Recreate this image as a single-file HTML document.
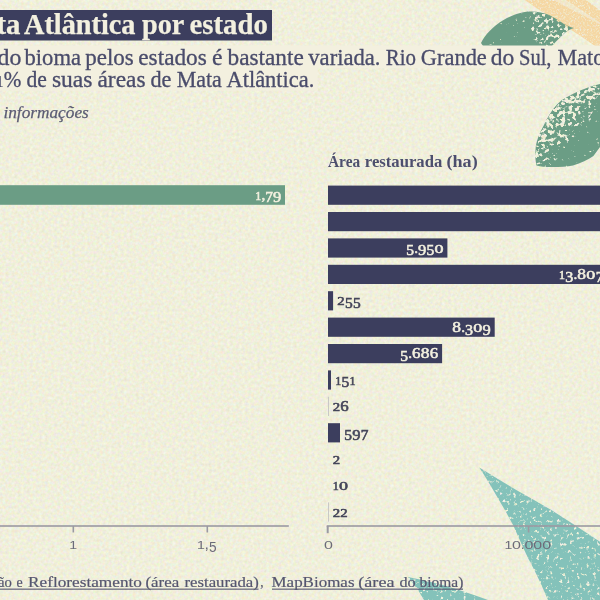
<!DOCTYPE html>
<html><head><meta charset="utf-8">
<style>
html,body{margin:0;padding:0;}
body{width:600px;height:600px;overflow:hidden;background:#efeee0;position:relative;font-family:"Liberation Serif",serif;}
svg{position:absolute;left:-10px;top:-10px;will-change:transform;filter:blur(0.45px);}
text{font-family:"Liberation Serif",serif;}
.d text{font-weight:normal;font-size:15.6px;}
.sans text{font-family:"Liberation Sans",sans-serif;}
</style></head><body>
<svg width="620" height="620" viewBox="-10 -10 620 620">
<defs>
<filter id="paper" x="0" y="0" width="100%" height="100%" color-interpolation-filters="sRGB">
  <feTurbulence type="fractalNoise" baseFrequency="0.33" numOctaves="2" seed="7"/>
  <feColorMatrix type="matrix" values="0.12 0 0 0 0.881  0 0.12 0 0 0.878  0 0 0.2 0 0.76  0 0 0 0 1"/>
</filter>
<linearGradient id="gA" gradientUnits="userSpaceOnUse" x1="500" y1="40" x2="560" y2="20"><stop offset="0" stop-color="#000"/><stop offset="0.45" stop-color="#000"/><stop offset="0.6" stop-color="#c00000"/><stop offset="1" stop-color="#c00000"/></linearGradient>
<linearGradient id="gB" gradientUnits="userSpaceOnUse" x1="600" y1="150" x2="545" y2="100"><stop offset="0" stop-color="#000"/><stop offset="0.25" stop-color="#000"/><stop offset="0.45" stop-color="#a00000"/><stop offset="0.7" stop-color="#f00"/><stop offset="1" stop-color="#f00"/></linearGradient>
<filter id="fgreen" x="-5%" y="-5%" width="110%" height="110%" color-interpolation-filters="sRGB">
  <feTurbulence type="fractalNoise" baseFrequency="0.26" numOctaves="2" seed="11" result="n0"/>
  <feColorMatrix in="n0" type="matrix" values="1 0 0 0 0  0 1 0 0 0  0 0 1 0 0  0 0 0 0 1" result="n"/>
  <feComposite in="n" in2="SourceGraphic" operator="arithmetic" k1="0" k2="1" k3="0.28" k4="0" result="m"/>
  <feColorMatrix in="m" type="matrix" values="0 0 0 0 1  0 0 0 0 1  0 0 0 0 1  9 0 0 0 -6.65" result="h0"/>
  <feGaussianBlur in="h0" stdDeviation="0.45" result="holes"/>
  <feFlood flood-color="#6b9d85" result="c"/>
  <feComposite in="c" in2="SourceAlpha" operator="in" result="leaf"/>
  <feComposite in="leaf" in2="holes" operator="out"/>
</filter>
<filter id="fteal" x="-5%" y="-5%" width="110%" height="110%" color-interpolation-filters="sRGB">
  <feTurbulence type="fractalNoise" baseFrequency="0.3" numOctaves="3" seed="4" result="n0"/>
  <feColorMatrix in="n0" type="matrix" values="0 0 0 0 1  0 0 0 0 1  0 0 0 0 1  6 0 0 0 -3.55" result="h0"/>
  <feGaussianBlur in="h0" stdDeviation="0.55" result="holes"/>
  <feComposite in="SourceGraphic" in2="holes" operator="out"/>
</filter>
<filter id="forange" x="-5%" y="-5%" width="110%" height="110%" color-interpolation-filters="sRGB">
  <feTurbulence type="fractalNoise" baseFrequency="0.55" numOctaves="2" seed="9" result="n0"/>
  <feColorMatrix in="n0" type="matrix" values="0 0 0 0 1  0 0 0 0 1  0 0 0 0 1  3 0 0 0 -1.45" result="h0"/>
  <feGaussianBlur in="h0" stdDeviation="0.4" result="holes"/>
  <feComposite in="SourceGraphic" in2="holes" operator="out"/>
</filter>
</defs>
<rect x="-10" y="-10" width="620" height="620" fill="#efeee0" filter="url(#paper)"/>
<!-- orange sprigs -->
<g id="orange" fill="#f5d7a3" filter="url(#forange)">
<path d="M522 -2 L540 10.5 L559.5 22.5 L580.5 36 L595 46 L612 46 L612 31 L600 24.5 L594 21 L580.5 14 L570 8.8 L550 -2 Z"/>
<path opacity="0.35" d="M548 -2 L566 -2 L612 31 L612 34 Z"/>
<path d="M563 -2 L580.5 9.6 L594 18.8 L612 30.5 L612 19 L600 10.5 L583.5 -2 Z"/>
</g>
<!-- green leaves -->
<g id="green">
<path fill="url(#gA)" filter="url(#fgreen)" d="M481 43 C488 28 508 14 527.6 11.6 C536 11 543 12.5 548.6 14.7 C558 19 564 25.5 574 28 C566 30 562 36 555.6 42 L552 46 L483 46 Z"/>
<path fill="url(#gB)" filter="url(#fgreen)" d="M612 82 L600 84 C596 85 592 86 588 87.5 C578 91 570 95 562 100 C554 106 548 116 544 125 C539 134 536 142 535.6 149 C535 156 535.5 161 536.5 165.4 C542 167 548 167.3 553 167 C560 167 567 166.5 573 165.4 C581 163 588 160 593.4 156 L600 147 L612 130 Z"/>
</g>
<!-- teal leaves -->
<g id="teal" fill="#84c2ba" filter="url(#fteal)">
<path d="M479.3 467.5 L498 479 L516.7 490.3 L534 500 L551.7 510.2 L575 525.3 L600 541.7 L612 550 L612 612 L553 612 L548 600 L541 584 L534.2 569.7 L528 558 L522.5 546.3 L513.2 525.3 L505 510.2 L499 500 L493.3 490.3 L486 478 Z"/>
<path d="M408 577 C424 580 440 584 456 589 C462 591 468 593 474 595 L488 600 L510 612 L430 612 L424 600 L418 590 Z"/>
</g>
<!-- text backgrounds -->
<rect x="-10" y="45.5" width="620" height="22.7" fill="#f3f0df"/>
<rect x="-10" y="68" width="327.5" height="22.5" fill="#f3f0df"/>
<!-- title -->
<rect x="-10" y="10" width="282" height="30.5" fill="#3c3e5e"/>
<text x="-3.5" y="33.9" font-size="29.2" fill="#f3f0df" textLength="24.0" lengthAdjust="spacingAndGlyphs" font-weight="bold" stroke="#f3f0df" stroke-width="0.25">ta</text>
<text x="24.0" y="33.9" font-size="29.2" fill="#f3f0df" textLength="111.5" lengthAdjust="spacingAndGlyphs" font-weight="bold" stroke="#f3f0df" stroke-width="0.25">Atlântica</text>
<text x="142.0" y="33.9" font-size="29.2" fill="#f3f0df" textLength="42.3" lengthAdjust="spacingAndGlyphs" font-weight="bold" stroke="#f3f0df" stroke-width="0.25">por</text>
<text x="189.5" y="33.9" font-size="29.2" fill="#f3f0df" textLength="78.3" lengthAdjust="spacingAndGlyphs" font-weight="bold" stroke="#f3f0df" stroke-width="0.25">estado</text>
<text x="-2.5" y="64.8" font-size="22.2" fill="#4a4c6b" textLength="23.8" lengthAdjust="spacingAndGlyphs" stroke="#4a4c6b" stroke-width="0.3">do</text>
<text x="24.5" y="64.8" font-size="22.2" fill="#4a4c6b" textLength="56.5" lengthAdjust="spacingAndGlyphs" stroke="#4a4c6b" stroke-width="0.3">bioma</text>
<text x="85.3" y="64.8" font-size="22.2" fill="#4a4c6b" textLength="48.5" lengthAdjust="spacingAndGlyphs" stroke="#4a4c6b" stroke-width="0.3">pelos</text>
<text x="138.3" y="64.8" font-size="22.2" fill="#4a4c6b" textLength="68.5" lengthAdjust="spacingAndGlyphs" stroke="#4a4c6b" stroke-width="0.3">estados</text>
<text x="212.0" y="64.8" font-size="22.2" fill="#4a4c6b" textLength="10.5" lengthAdjust="spacingAndGlyphs" stroke="#4a4c6b" stroke-width="0.3">é</text>
<text x="227.5" y="64.8" font-size="22.2" fill="#4a4c6b" textLength="76.3" lengthAdjust="spacingAndGlyphs" stroke="#4a4c6b" stroke-width="0.3">bastante</text>
<text x="308.3" y="64.8" font-size="22.2" fill="#4a4c6b" textLength="72.2" lengthAdjust="spacingAndGlyphs" stroke="#4a4c6b" stroke-width="0.3">variada.</text>
<text x="385.8" y="64.8" font-size="22.2" fill="#4a4c6b" textLength="30.2" lengthAdjust="spacingAndGlyphs" stroke="#4a4c6b" stroke-width="0.3">Rio</text>
<text x="420.8" y="64.8" font-size="22.2" fill="#4a4c6b" textLength="66.0" lengthAdjust="spacingAndGlyphs" stroke="#4a4c6b" stroke-width="0.3">Grande</text>
<text x="490.8" y="64.8" font-size="22.2" fill="#4a4c6b" textLength="23.5" lengthAdjust="spacingAndGlyphs" stroke="#4a4c6b" stroke-width="0.3">do</text>
<text x="519.0" y="64.8" font-size="22.2" fill="#4a4c6b" textLength="32.5" lengthAdjust="spacingAndGlyphs" stroke="#4a4c6b" stroke-width="0.3">Sul,</text>
<text x="557.5" y="64.8" font-size="22.2" fill="#4a4c6b" textLength="46.8" lengthAdjust="spacingAndGlyphs" stroke="#4a4c6b" stroke-width="0.3">Mato</text>
<text x="-4" y="87.3" font-size="22.2" fill="#4a4c6b" transform="translate(-4,87.3) scale(0.7,0.76) translate(4,-87.3)">1</text>
<text x="3.7" y="87.3" font-size="22.2" fill="#4a4c6b" textLength="17.6" lengthAdjust="spacingAndGlyphs" stroke="#4a4c6b" stroke-width="0.3">%</text>
<text x="26.5" y="87.3" font-size="22.2" fill="#4a4c6b" textLength="20.4" lengthAdjust="spacingAndGlyphs" stroke="#4a4c6b" stroke-width="0.3">de</text>
<text x="51.9" y="87.3" font-size="22.2" fill="#4a4c6b" textLength="40.6" lengthAdjust="spacingAndGlyphs" stroke="#4a4c6b" stroke-width="0.3">suas</text>
<text x="97.5" y="87.3" font-size="22.2" fill="#4a4c6b" textLength="48.0" lengthAdjust="spacingAndGlyphs" stroke="#4a4c6b" stroke-width="0.3">áreas</text>
<text x="150.5" y="87.3" font-size="22.2" fill="#4a4c6b" textLength="21.0" lengthAdjust="spacingAndGlyphs" stroke="#4a4c6b" stroke-width="0.3">de</text>
<text x="176.7" y="87.3" font-size="22.2" fill="#4a4c6b" textLength="45.1" lengthAdjust="spacingAndGlyphs" stroke="#4a4c6b" stroke-width="0.3">Mata</text>
<text x="226.5" y="87.3" font-size="22.2" fill="#4a4c6b" textLength="87.8" lengthAdjust="spacingAndGlyphs" stroke="#4a4c6b" stroke-width="0.3">Atlântica.</text>
<text id="info" x="3.4" y="118" font-size="17.3" font-style="italic" fill="#5b5c74" stroke="#5b5c74" stroke-width="0.25" textLength="85.4" lengthAdjust="spacingAndGlyphs">informações</text>
<text x="328.0" y="166.8" font-size="16.8" fill="#4d4f6e" textLength="32.2" lengthAdjust="spacingAndGlyphs" font-weight="bold">Área</text>
<text x="364.8" y="166.8" font-size="16.8" fill="#4d4f6e" textLength="77.5" lengthAdjust="spacingAndGlyphs" font-weight="bold">restaurada</text>
<text x="446.5" y="166.8" font-size="16.8" fill="#4d4f6e" textLength="31.2" lengthAdjust="spacingAndGlyphs" font-weight="bold">(ha)</text>
<!-- left bar -->
<rect x="-10" y="185.2" width="295" height="19.6" fill="#6b9d85"/>
<g class="d"><text transform="translate(255.20,199.60) scale(0.771,0.8)" fill="#f3f0df" stroke="#f3f0df" stroke-width="0.74">1</text><text transform="translate(261.40,199.60) scale(0.974,1.0)" fill="#f3f0df" stroke="#f3f0df" stroke-width="0.59">,</text><text transform="translate(265.20,202.40) scale(0.982,1.0)" fill="#f3f0df" stroke="#f3f0df" stroke-width="0.59">7</text><text transform="translate(273.10,202.40) scale(1.057,1.0)" fill="#f3f0df" stroke="#f3f0df" stroke-width="0.56">9</text></g>
<!-- right bars -->
<rect x="328.0" y="185.6" width="280.8" height="19.2" fill="#3c3e5e"/><rect x="328.0" y="212.0" width="280.8" height="19.2" fill="#3c3e5e"/><rect x="328.0" y="238.4" width="119.4" height="19.2" fill="#3c3e5e"/><rect x="328.0" y="264.8" width="277.0" height="19.2" fill="#3c3e5e"/><rect x="328.0" y="291.2" width="5.1" height="19.2" fill="#3c3e5e"/><rect x="328.0" y="317.6" width="166.7" height="19.2" fill="#3c3e5e"/><rect x="328.0" y="344.0" width="114.1" height="19.2" fill="#3c3e5e"/><rect x="328.0" y="370.4" width="3.0" height="19.2" fill="#3c3e5e"/><rect x="328.0" y="396.8" width="1" height="19.2" fill="#c9c8c6"/><rect x="328.0" y="423.2" width="12.0" height="19.2" fill="#3c3e5e"/><rect x="328.0" y="502.4" width="1" height="19.2" fill="#c9c8c6"/>
<g class="d"><text transform="translate(406.16,255.40) scale(0.995,1.0)" fill="#f3f0df" stroke="#f3f0df" stroke-width="0.58">5</text><text transform="translate(414.16,252.60) scale(0.974,1.0)" fill="#f3f0df" stroke="#f3f0df" stroke-width="0.59">.</text><text transform="translate(417.96,255.40) scale(1.057,1.0)" fill="#f3f0df" stroke="#f3f0df" stroke-width="0.56">9</text><text transform="translate(426.46,255.40) scale(0.995,1.0)" fill="#f3f0df" stroke="#f3f0df" stroke-width="0.58">5</text><text transform="translate(434.46,252.60) scale(1.157,0.8)" fill="#f3f0df" stroke="#f3f0df" stroke-width="0.60">0</text><text transform="translate(559.07,279.00) scale(0.771,0.8)" fill="#f3f0df" stroke="#f3f0df" stroke-width="0.74">1</text><text transform="translate(565.27,281.80) scale(1.032,1.0)" fill="#f3f0df" stroke="#f3f0df" stroke-width="0.57">3</text><text transform="translate(573.57,279.00) scale(0.974,1.0)" fill="#f3f0df" stroke="#f3f0df" stroke-width="0.59">.</text><text transform="translate(577.37,279.00) scale(1.119,1.0)" fill="#f3f0df" stroke="#f3f0df" stroke-width="0.55">8</text><text transform="translate(586.37,279.00) scale(1.157,0.8)" fill="#f3f0df" stroke="#f3f0df" stroke-width="0.60">0</text><text transform="translate(595.67,281.80) scale(0.982,1.0)" fill="#f3f0df" stroke="#f3f0df" stroke-width="0.59">7</text><text transform="translate(337.32,305.40) scale(0.945,0.8)" fill="#45465a" stroke="#45465a" stroke-width="0.71">2</text><text transform="translate(344.92,308.20) scale(0.995,1.0)" fill="#45465a" stroke="#45465a" stroke-width="0.62">5</text><text transform="translate(352.92,308.20) scale(0.995,1.0)" fill="#45465a" stroke="#45465a" stroke-width="0.62">5</text><text transform="translate(452.18,331.80) scale(1.119,1.0)" fill="#f3f0df" stroke="#f3f0df" stroke-width="0.55">8</text><text transform="translate(461.18,331.80) scale(0.974,1.0)" fill="#f3f0df" stroke="#f3f0df" stroke-width="0.59">.</text><text transform="translate(464.98,334.60) scale(1.032,1.0)" fill="#f3f0df" stroke="#f3f0df" stroke-width="0.57">3</text><text transform="translate(473.28,331.80) scale(1.157,0.8)" fill="#f3f0df" stroke="#f3f0df" stroke-width="0.60">0</text><text transform="translate(482.58,334.60) scale(1.057,1.0)" fill="#f3f0df" stroke="#f3f0df" stroke-width="0.56">9</text><text transform="translate(400.26,361.00) scale(0.995,1.0)" fill="#f3f0df" stroke="#f3f0df" stroke-width="0.58">5</text><text transform="translate(408.26,358.20) scale(0.974,1.0)" fill="#f3f0df" stroke="#f3f0df" stroke-width="0.59">.</text><text transform="translate(412.06,358.20) scale(1.082,1.0)" fill="#f3f0df" stroke="#f3f0df" stroke-width="0.56">6</text><text transform="translate(420.76,358.20) scale(1.119,1.0)" fill="#f3f0df" stroke="#f3f0df" stroke-width="0.55">8</text><text transform="translate(429.76,358.20) scale(1.082,1.0)" fill="#f3f0df" stroke="#f3f0df" stroke-width="0.56">6</text><text transform="translate(335.23,384.60) scale(0.771,0.8)" fill="#45465a" stroke="#45465a" stroke-width="0.79">1</text><text transform="translate(341.43,387.40) scale(0.995,1.0)" fill="#45465a" stroke="#45465a" stroke-width="0.62">5</text><text transform="translate(349.43,384.60) scale(0.771,0.8)" fill="#45465a" stroke="#45465a" stroke-width="0.79">1</text><text transform="translate(332.72,411.00) scale(0.945,0.8)" fill="#45465a" stroke="#45465a" stroke-width="0.71">2</text><text transform="translate(340.32,411.00) scale(1.082,1.0)" fill="#45465a" stroke="#45465a" stroke-width="0.60">6</text><text transform="translate(344.18,440.20) scale(0.995,1.0)" fill="#45465a" stroke="#45465a" stroke-width="0.62">5</text><text transform="translate(352.18,440.20) scale(1.057,1.0)" fill="#45465a" stroke="#45465a" stroke-width="0.60">9</text><text transform="translate(360.68,440.20) scale(0.982,1.0)" fill="#45465a" stroke="#45465a" stroke-width="0.63">7</text><text transform="translate(332.70,463.80) scale(0.945,0.8)" fill="#45465a" stroke="#45465a" stroke-width="0.71">2</text><text transform="translate(332.70,490.20) scale(0.771,0.8)" fill="#45465a" stroke="#45465a" stroke-width="0.79">1</text><text transform="translate(338.90,490.20) scale(1.157,0.8)" fill="#45465a" stroke="#45465a" stroke-width="0.64">0</text><text transform="translate(332.70,516.60) scale(0.945,0.8)" fill="#45465a" stroke="#45465a" stroke-width="0.71">2</text><text transform="translate(340.30,516.60) scale(0.945,0.8)" fill="#45465a" stroke="#45465a" stroke-width="0.71">2</text></g>
<!-- axes -->
<g fill="#9b99a2">
<rect x="-10" y="525.2" width="298.8" height="1.6"/>
<rect x="72.5" y="526" width="1.6" height="6.5"/>
<rect x="206.5" y="526" width="1.6" height="6.5"/>
<rect x="326.7" y="525.2" width="284" height="1.6"/>
<rect x="326.7" y="526" width="2" height="7.2"/>
<rect x="527.8" y="526" width="1.6" height="6.5"/>
</g>
<g class="sans" font-size="14.3">
<text transform="translate(69.20,549.40) scale(0.990,0.78)" fill="#6c6b79">1</text>
<text transform="translate(197.00,549.40) scale(0.990,0.78)" fill="#6c6b79">1</text><text transform="translate(204.50,549.40) scale(1.107,1.0)" fill="#6c6b79">,</text><text transform="translate(208.90,552.20) scale(0.956,1.0)" fill="#6c6b79">5</text>
<text transform="translate(324.00,549.40) scale(1.119,0.78)" fill="#6c6b79">0</text>
<text transform="translate(504.60,549.40) scale(0.990,0.78)" fill="#6c6b79">1</text><text transform="translate(512.10,549.40) scale(1.119,0.78)" fill="#6c6b79">0</text><text transform="translate(521.00,549.40) scale(0.855,1.0)" fill="#6c6b79">.</text><text transform="translate(524.40,549.40) scale(1.119,0.78)" fill="#6c6b79">0</text><text transform="translate(533.30,549.40) scale(1.119,0.78)" fill="#6c6b79">0</text><text transform="translate(542.20,549.40) scale(1.119,0.78)" fill="#6c6b79">0</text>
</g>
<text x="-2.0" y="586.6" font-size="15.4" fill="#55566f" textLength="13.9" lengthAdjust="spacingAndGlyphs" stroke="#55566f" stroke-width="0.2">ão</text>
<text x="16.5" y="586.6" font-size="15.4" fill="#55566f" textLength="6.2" lengthAdjust="spacingAndGlyphs" stroke="#55566f" stroke-width="0.2">e</text>
<text x="28.1" y="586.6" font-size="15.4" fill="#55566f" textLength="113.8" lengthAdjust="spacingAndGlyphs" stroke="#55566f" stroke-width="0.2">Reflorestamento</text>
<text x="145.5" y="586.6" font-size="15.4" fill="#55566f" textLength="33.7" lengthAdjust="spacingAndGlyphs" stroke="#55566f" stroke-width="0.2">(área</text>
<text x="184.5" y="586.6" font-size="15.4" fill="#55566f" textLength="74.3" lengthAdjust="spacingAndGlyphs" stroke="#55566f" stroke-width="0.2">restaurada)</text>
<text x="260.2" y="586.6" font-size="15.4" fill="#55566f" textLength="3.3" lengthAdjust="spacingAndGlyphs" stroke="#55566f" stroke-width="0.2">,</text>
<text x="271.5" y="586.6" font-size="15.4" fill="#55566f" textLength="83.0" lengthAdjust="spacingAndGlyphs" stroke="#55566f" stroke-width="0.2">MapBiomas</text>
<text x="358.3" y="586.6" font-size="15.4" fill="#55566f" textLength="36.2" lengthAdjust="spacingAndGlyphs" stroke="#55566f" stroke-width="0.2">(área</text>
<text x="399.5" y="586.6" font-size="15.4" fill="#55566f" textLength="16.2" lengthAdjust="spacingAndGlyphs" stroke="#55566f" stroke-width="0.2">do</text>
<text x="419.5" y="586.6" font-size="15.4" fill="#55566f" textLength="43.8" lengthAdjust="spacingAndGlyphs" stroke="#55566f" stroke-width="0.2">bioma)</text>
<rect x="-10" y="588.6" width="268.5" height="1.1" fill="#55566f"/>
<rect x="272" y="588.6" width="191" height="1.1" fill="#55566f"/>
</svg>
</body></html>
